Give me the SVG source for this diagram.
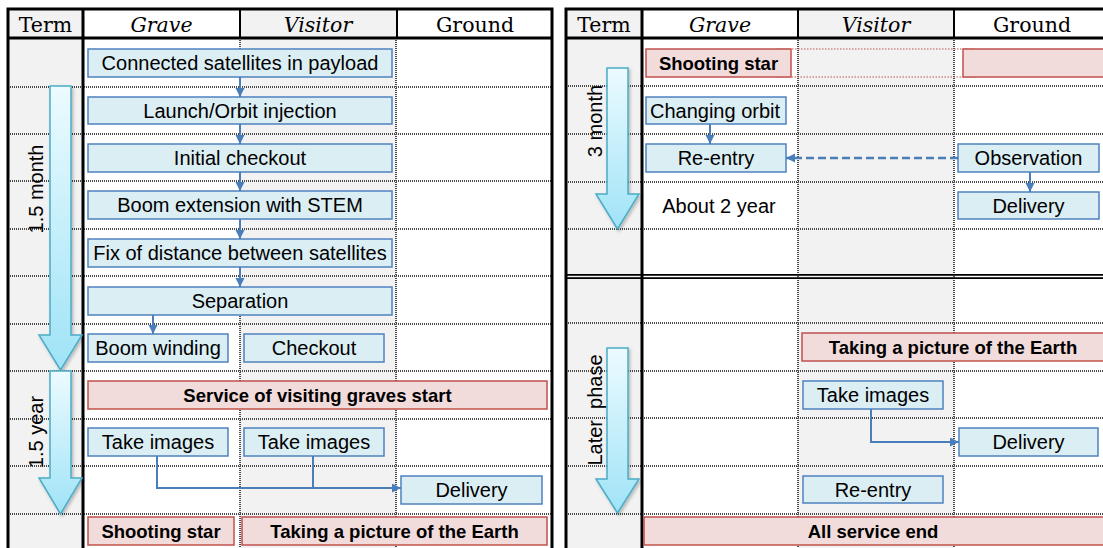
<svg xmlns="http://www.w3.org/2000/svg" width="1103" height="548" viewBox="0 0 1103 548">
<defs>
<style>
.w{fill:#fff}
.g{fill:#f2f2f2}
.dot{stroke:#4a4a4a;stroke-width:2;stroke-dasharray:1 1;fill:none}
.bk{stroke:#000;stroke-width:3;fill:none}
.bk2{stroke:#000;stroke-width:2;fill:none}
.bk1{stroke:#000;stroke-width:1.8;fill:none}
.bb{fill:#dbeef4;stroke:#4f81bd;stroke-width:1.5}
.pb{fill:#f2dcdb;stroke:#c0504d;stroke-width:1.5}
.pd{fill:none;stroke:#c0504d;stroke-width:1;stroke-dasharray:1.5 1.5}
.t{font-family:"Liberation Sans",Arial,sans-serif;font-size:20px;fill:#000;text-anchor:middle}
.tb{font-family:"Liberation Sans",Arial,sans-serif;font-size:18.5px;font-weight:bold;fill:#000;text-anchor:middle}
.hd{font-family:"DejaVu Serif","Liberation Serif",serif;font-size:20.5px;fill:#000;text-anchor:middle}
.it{font-style:italic}
.c{stroke:#4a7ebb;stroke-width:2;fill:none}
.cd{stroke:#4a7ebb;stroke-width:2.5;fill:none;stroke-dasharray:8 4}
.ba{fill:url(#ag);stroke:#4bacc6;stroke-width:1.5;filter:url(#sh)}
</style>
<linearGradient id="ag" x1="0" y1="0" x2="0" y2="1">
<stop offset="0" stop-color="#ecfbff"/>
<stop offset="1" stop-color="#9fe3f7"/>
</linearGradient>
<marker id="ah" markerWidth="10" markerHeight="10" refX="9" refY="4.5" orient="auto" markerUnits="userSpaceOnUse">
<path d="M0,0 L9,4.5 L0,9 Z" fill="#4a7ebb"/>
</marker>
<filter id="sh" x="-30%" y="-10%" width="160%" height="130%">
<feDropShadow dx="1.5" dy="2" stdDeviation="1.5" flood-color="#000" flood-opacity="0.25"/>
</filter>
</defs>

<g id="left-table">
<rect class="w" x="8" y="9" width="544" height="545"/>
<rect class="g" x="8" y="9" width="75" height="545"/>
<rect class="g" x="240" y="9" width="157" height="545"/>
<g>
<line class="dot" x1="8" y1="87" x2="552" y2="87"/>
<line class="dot" x1="8" y1="134" x2="552" y2="134"/>
<line class="dot" x1="8" y1="181" x2="552" y2="181"/>
<line class="dot" x1="8" y1="229" x2="552" y2="229"/>
<line class="dot" x1="8" y1="276" x2="552" y2="276"/>
<line class="dot" x1="8" y1="324" x2="552" y2="324"/>
<line class="dot" x1="8" y1="371" x2="552" y2="371"/>
<line class="dot" x1="8" y1="419" x2="552" y2="419"/>
<line class="dot" x1="8" y1="466" x2="552" y2="466"/>
<line class="dot" x1="8" y1="514" x2="552" y2="514"/>
<line class="dot" x1="240" y1="38" x2="240" y2="548"/>
<line class="dot" x1="396" y1="38" x2="396" y2="548"/>
</g>
<line class="bk2" x1="240" y1="9" x2="240" y2="38"/>
<line class="bk2" x1="397" y1="9" x2="397" y2="38"/>
<line class="bk" x1="8" y1="38" x2="552" y2="38"/>
<line class="bk" x1="83" y1="9" x2="83" y2="548"/>
<path class="bk" d="M8,548 V9 H552 V548"/>
<text class="hd" x="45.5" y="32">Term</text>
<text class="hd it" x="161.5" y="32">Grave</text>
<text class="hd it" x="318" y="32">Visitor</text>
<text class="hd" x="475" y="32">Ground</text>
</g>

<g id="right-table">
<rect class="w" x="566" y="9" width="544" height="545"/>
<rect class="g" x="566" y="9" width="76" height="545"/>
<rect class="g" x="798" y="9" width="156" height="545"/>
<g>
<line class="dot" x1="566" y1="86" x2="1110" y2="86"/>
<line class="dot" x1="566" y1="134" x2="1110" y2="134"/>
<line class="dot" x1="566" y1="182" x2="1110" y2="182"/>
<line class="dot" x1="566" y1="229" x2="1110" y2="229"/>
<line class="dot" x1="566" y1="323" x2="1110" y2="323"/>
<line class="dot" x1="566" y1="371" x2="1110" y2="371"/>
<line class="dot" x1="566" y1="418" x2="1110" y2="418"/>
<line class="dot" x1="566" y1="466" x2="1110" y2="466"/>
<line class="dot" x1="566" y1="514" x2="1110" y2="514"/>
<line class="dot" x1="798" y1="38" x2="798" y2="548"/>
<line class="dot" x1="954" y1="38" x2="954" y2="548"/>
</g>
<line class="bk1" x1="566" y1="274.8" x2="1110" y2="274.8"/>
<line class="bk1" x1="566" y1="278.2" x2="1110" y2="278.2"/>
<line class="bk2" x1="798" y1="9" x2="798" y2="38"/>
<line class="bk2" x1="954" y1="9" x2="954" y2="38"/>
<line class="bk" x1="566" y1="38" x2="1110" y2="38"/>
<line class="bk" x1="642" y1="9" x2="642" y2="548"/>
<path class="bk" d="M566,548 V9 H1110"/>
<text class="hd" x="604" y="32">Term</text>
<text class="hd it" x="720" y="32">Grave</text>
<text class="hd it" x="876" y="32">Visitor</text>
<text class="hd" x="1032" y="32">Ground</text>
</g>

<g id="term-arrows">
<path class="ba" d="M50,86 H71 V335 H82 L60.5,370 L39,335 H50 Z"/>
<path class="ba" d="M50,371 H71 V478 H82 L60.5,514 L39,478 H50 Z"/>
<path class="ba" d="M607,68 H628 V194 H639 L617.5,229 L596,194 H607 Z"/>
<path class="ba" d="M607,348 H628 V479 H639 L617.5,513 L596,479 H607 Z"/>
<text class="t" transform="translate(43,189) rotate(-90)">1.5 month</text>
<text class="t" transform="translate(43,432) rotate(-90)">1.5 year</text>
<text class="t" transform="translate(602,121) rotate(-90)">3 month</text>
<text class="t" transform="translate(602,410) rotate(-90)">Later&#160; phase</text>
</g>

<g id="n-connected"><rect class="bb" x="88" y="49" width="304" height="28"/><text class="t" x="240" y="70">Connected satellites in payload</text></g>
<g id="n-launch"><rect class="bb" x="88" y="97" width="304" height="27"/><text class="t" x="240" y="118">Launch/Orbit injection</text></g>
<g id="n-initial"><rect class="bb" x="88" y="144" width="304" height="28"/><text class="t" x="240" y="165">Initial checkout</text></g>
<g id="n-boomext"><rect class="bb" x="88" y="191" width="304" height="28"/><text class="t" x="240" y="212">Boom extension with STEM</text></g>
<g id="n-fix"><rect class="bb" x="88" y="239" width="304" height="28"/><text class="t" x="240" y="260">Fix of distance between satellites</text></g>
<g id="n-separation"><rect class="bb" x="88" y="287" width="304" height="28"/><text class="t" x="240" y="308">Separation</text></g>
<g id="n-boomwind"><rect class="bb" x="88" y="334" width="140" height="28"/><text class="t" x="158" y="355">Boom winding</text></g>
<g id="n-checkout"><rect class="bb" x="244" y="334" width="140" height="28"/><text class="t" x="314" y="355">Checkout</text></g>
<g id="n-service"><rect class="pb" x="88" y="381" width="459" height="28"/><text class="tb" x="317.5" y="402">Service of visiting graves start</text></g>
<g id="n-take1"><rect class="bb" x="88" y="428" width="140" height="28"/><text class="t" x="158" y="449">Take images</text></g>
<g id="n-take2"><rect class="bb" x="244" y="428" width="140" height="28"/><text class="t" x="314" y="449">Take images</text></g>
<g id="n-delivery1"><rect class="bb" x="401" y="476" width="141" height="28"/><text class="t" x="471.5" y="497">Delivery</text></g>
<g id="n-shoot1"><rect class="pb" x="88" y="517" width="146" height="28"/><text class="tb" x="161" y="538">Shooting star</text></g>
<g id="n-earth1"><rect class="pb" x="242" y="517" width="305" height="28"/><text class="tb" x="394.5" y="538">Taking a picture of the Earth</text></g>

<g id="n-hidden-span"><rect class="pd" x="777" y="49" width="198" height="28"/></g>
<g id="n-shoot2"><rect class="pb" x="646" y="49" width="145" height="28"/><text class="tb" x="718.5" y="70">Shooting star</text></g>
<g id="n-ground-pink"><rect class="pb" x="963" y="49" width="145" height="28"/></g>
<g id="n-changing"><rect class="bb" x="646" y="97" width="140" height="27"/><text class="t" x="715" y="118">Changing orbit</text></g>
<g id="n-reentry1"><rect class="bb" x="646" y="144" width="140" height="28"/><text class="t" x="716" y="165">Re-entry</text></g>
<g id="n-observation"><rect class="bb" x="958" y="144" width="141" height="28"/><text class="t" x="1028.5" y="165">Observation</text></g>
<g id="n-delivery2"><rect class="bb" x="958" y="192" width="141" height="27"/><text class="t" x="1028.5" y="213">Delivery</text></g>
<g id="n-about"><text class="t" x="719" y="213">About 2 year</text></g>
<g id="n-earth2"><rect class="pb" x="802" y="333" width="304" height="28"/><text class="tb" x="953" y="354">Taking a picture of the Earth</text></g>
<g id="n-take3"><rect class="bb" x="803" y="381" width="140" height="28"/><text class="t" x="873" y="402">Take images</text></g>
<g id="n-delivery3"><rect class="bb" x="959" y="428" width="139" height="28"/><text class="t" x="1028.5" y="449">Delivery</text></g>
<g id="n-reentry2"><rect class="bb" x="803" y="476" width="140" height="27"/><text class="t" x="873" y="497">Re-entry</text></g>
<g id="n-allend"><rect class="pb" x="644" y="517" width="462" height="28"/><text class="tb" x="873" y="538">All service end</text></g>

<g id="connectors">
<path class="c" d="M240,77 V97" marker-end="url(#ah)"/>
<path class="c" d="M240,124 V144" marker-end="url(#ah)"/>
<path class="c" d="M240,172 V191" marker-end="url(#ah)"/>
<path class="c" d="M240,219 V239" marker-end="url(#ah)"/>
<path class="c" d="M240,267 V287" marker-end="url(#ah)"/>
<path class="c" d="M153,315 V334" marker-end="url(#ah)"/>
<path class="c" d="M157,456 V488 H401" marker-end="url(#ah)"/>
<path class="c" d="M313,456 V488"/>
<path class="c" d="M710,124 V144" marker-end="url(#ah)"/>
<path class="c" d="M1030,172 V192" marker-end="url(#ah)"/>
<path class="cd" d="M958,158 H786" marker-end="url(#ah)"/>
<path class="c" d="M871,409 V442 H959" marker-end="url(#ah)"/>
</g>
</svg>
